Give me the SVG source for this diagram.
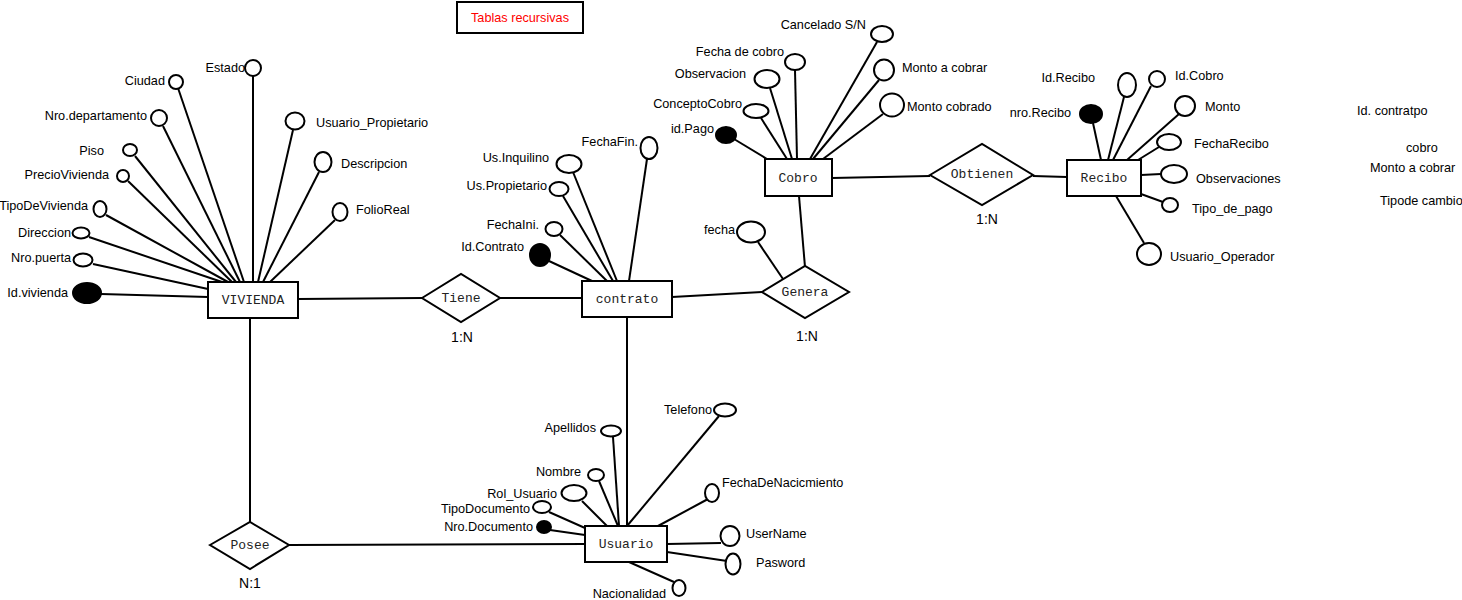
<svg xmlns="http://www.w3.org/2000/svg" width="1462" height="600" viewBox="0 0 1462 600">
<style>
.bg{fill:#fff}
.ent rect{fill:#fff;stroke:#000;stroke-width:2}
.rel polygon{fill:#fff;stroke:#000;stroke-width:2}
.etxt{font-family:"Liberation Mono","Courier New",monospace;font-size:13px;fill:#222;text-anchor:middle}
.attr ellipse{fill:#fff;stroke:#000;stroke-width:2}
.attr ellipse.key{fill:#000}
.lbl{font-family:"Liberation Sans",Arial,sans-serif;font-size:12.7px;fill:#000}
.end{text-anchor:end}
.card{font-family:"Liberation Sans",Arial,sans-serif;font-size:14px;fill:#000;text-anchor:middle}
#connectors line{stroke:#000;stroke-width:2}
.title rect{fill:#fff;stroke:#000;stroke-width:2}
.title text{font-family:"Liberation Sans",Arial,sans-serif;font-size:12.7px;fill:#ff0000;text-anchor:middle}
</style>
<rect class="bg" x="0" y="0" width="1462" height="600"/>

<g id="connectors">
<!-- relationships -->
<line x1="298" y1="299" x2="422" y2="298"/>
<line x1="500" y1="298" x2="582" y2="298"/>
<line x1="672" y1="297" x2="762" y2="292"/>
<line x1="805" y1="267" x2="799" y2="196"/>
<line x1="832" y1="178" x2="930" y2="176"/>
<line x1="1033" y1="176" x2="1067" y2="177"/>
<line x1="627" y1="317" x2="627" y2="526"/>
<line x1="250" y1="318" x2="250" y2="522"/>
<line x1="289" y1="545" x2="585" y2="544"/>
<!-- VIVIENDA attributes -->
<line x1="253" y1="76" x2="253" y2="282"/>
<line x1="178" y1="88" x2="244" y2="282"/>
<line x1="163" y1="126" x2="240" y2="282"/>
<line x1="135" y1="156" x2="236" y2="282"/>
<line x1="128" y1="181" x2="232" y2="282"/>
<line x1="106" y1="215" x2="228" y2="282"/>
<line x1="89" y1="237" x2="222" y2="282"/>
<line x1="93" y1="264" x2="208" y2="289"/>
<line x1="101" y1="294" x2="208" y2="297"/>
<line x1="293" y1="130" x2="258" y2="282"/>
<line x1="319" y1="172" x2="263" y2="282"/>
<line x1="335" y1="220" x2="270" y2="282"/>
<!-- contrato attributes -->
<line x1="647" y1="159" x2="629" y2="281"/>
<line x1="573" y1="172" x2="617" y2="281"/>
<line x1="563" y1="196" x2="613" y2="281"/>
<line x1="560" y1="235" x2="607" y2="281"/>
<line x1="549" y1="261" x2="592" y2="281"/>
<!-- Genera attribute -->
<line x1="758" y1="242" x2="783" y2="279"/>
<!-- Cobro attributes -->
<line x1="877" y1="42" x2="810" y2="159"/>
<line x1="795" y1="70" x2="797" y2="159"/>
<line x1="770" y1="88" x2="792" y2="159"/>
<line x1="761" y1="118" x2="787" y2="159"/>
<line x1="734" y1="139" x2="767" y2="159"/>
<line x1="879" y1="80" x2="813" y2="159"/>
<line x1="883" y1="114" x2="823" y2="159"/>
<!-- Recibo attributes -->
<line x1="1124" y1="97" x2="1108" y2="160"/>
<line x1="1093" y1="123" x2="1101" y2="160"/>
<line x1="1151" y1="86" x2="1113" y2="160"/>
<line x1="1179" y1="114" x2="1127" y2="160"/>
<line x1="1159" y1="147" x2="1138" y2="160"/>
<line x1="1141" y1="175" x2="1161" y2="174"/>
<line x1="1141" y1="194" x2="1163" y2="202"/>
<line x1="1116" y1="196" x2="1144" y2="243"/>
<!-- Usuario attributes -->
<line x1="719" y1="416" x2="627" y2="526"/>
<line x1="613" y1="437" x2="619" y2="526"/>
<line x1="599" y1="481" x2="618" y2="526"/>
<line x1="582" y1="501" x2="607" y2="526"/>
<line x1="549" y1="512" x2="585" y2="528"/>
<line x1="550" y1="530" x2="585" y2="535"/>
<line x1="708" y1="499" x2="658" y2="526"/>
<line x1="667" y1="544" x2="721" y2="543"/>
<line x1="667" y1="552" x2="727" y2="561"/>
<line x1="629" y1="562" x2="674" y2="582"/>
</g>

<g id="title" class="title">
<rect x="457" y="2" width="126" height="31"/>
<text x="520" y="22">Tablas recursivas</text>
</g>

<g id="vivienda" class="ent"><rect x="208" y="282" width="90" height="36"/><text class="etxt" x="253" y="304">VIVIENDA</text></g>
<g id="contrato" class="ent"><rect x="582" y="281" width="90" height="36"/><text class="etxt" x="627" y="303">contrato</text></g>
<g id="cobro" class="ent"><rect x="765" y="159" width="67" height="37"/><text class="etxt" x="798" y="182">Cobro</text></g>
<g id="recibo" class="ent"><rect x="1067" y="160" width="74" height="36"/><text class="etxt" x="1104" y="182">Recibo</text></g>
<g id="usuario" class="ent"><rect x="585" y="526" width="82" height="36"/><text class="etxt" x="626" y="548">Usuario</text></g>

<g id="tiene" class="rel"><polygon points="422,298 461,274 500,298 461,322"/><text class="etxt" x="461" y="302">Tiene</text><text class="card" x="462" y="342">1:N</text></g>
<g id="genera" class="rel"><polygon points="762,292 805,266 849,292 805,318"/><text class="etxt" x="805" y="296">Genera</text><text class="card" x="807" y="341">1:N</text></g>
<g id="obtienen" class="rel"><polygon points="930,175 982,144 1033,175 982,205"/><text class="etxt" x="982" y="178">Obtienen</text><text class="card" x="987" y="224">1:N</text></g>
<g id="posee" class="rel"><polygon points="210,545 250,522 289,545 250,569"/><text class="etxt" x="250" y="549">Posee</text><text class="card" x="250" y="588">N:1</text></g>

<!-- VIVIENDA attributes -->
<g id="a-estado" class="attr"><ellipse cx="253" cy="68" rx="8" ry="8"/><text class="lbl end" x="245" y="72">Estado</text></g>
<g id="a-ciudad" class="attr"><ellipse cx="176" cy="82" rx="7" ry="7"/><text class="lbl end" x="165" y="85">Ciudad</text></g>
<g id="a-nrodep" class="attr"><ellipse cx="159" cy="118" rx="8" ry="8"/><text class="lbl end" x="147" y="120">Nro.departamento</text></g>
<g id="a-piso" class="attr"><ellipse cx="130" cy="150" rx="7" ry="6"/><text class="lbl end" x="104" y="155">Piso</text></g>
<g id="a-precio" class="attr"><ellipse cx="123" cy="176" rx="6" ry="6"/><text class="lbl end" x="109" y="179">PrecioVivienda</text></g>
<g id="a-tipoviv" class="attr"><ellipse cx="100" cy="209" rx="6.5" ry="8"/><text class="lbl end" x="88" y="210">TipoDeVivienda</text></g>
<g id="a-direccion" class="attr"><ellipse cx="81" cy="233" rx="8.5" ry="5.5"/><text class="lbl end" x="71" y="237">Direccion</text></g>
<g id="a-nropuerta" class="attr"><ellipse cx="83" cy="260" rx="9.5" ry="6.5"/><text class="lbl end" x="71" y="262">Nro.puerta</text></g>
<g id="a-idviv" class="attr"><ellipse class="key" cx="87" cy="293" rx="14" ry="10"/><text class="lbl end" x="68" y="297">Id.vivienda</text></g>
<g id="a-usprop" class="attr"><ellipse cx="295" cy="121" rx="9.5" ry="8.5"/><text class="lbl" x="316" y="127">Usuario_Propietario</text></g>
<g id="a-descripcion" class="attr"><ellipse cx="323" cy="162" rx="8.5" ry="10"/><text class="lbl" x="341" y="168">Descripcion</text></g>
<g id="a-folio" class="attr"><ellipse cx="340" cy="212" rx="7.5" ry="9"/><text class="lbl" x="356" y="214">FolioReal</text></g>

<!-- contrato attributes -->
<g id="a-fechafin" class="attr"><ellipse cx="649" cy="148" rx="8.5" ry="11"/><text class="lbl end" x="638" y="146">FechaFin.</text></g>
<g id="a-usinq" class="attr"><ellipse cx="569" cy="164" rx="12.5" ry="9"/><text class="lbl end" x="549" y="162">Us.Inquilino</text></g>
<g id="a-usprop2" class="attr"><ellipse cx="559" cy="189" rx="9.5" ry="7"/><text class="lbl end" x="547" y="190">Us.Propietario</text></g>
<g id="a-fechaini" class="attr"><ellipse cx="554" cy="229" rx="8.5" ry="7"/><text class="lbl end" x="539" y="229">FechaIni.</text></g>
<g id="a-idcontrato" class="attr"><ellipse class="key" cx="540" cy="255" rx="10" ry="11"/><text class="lbl end" x="524" y="251">Id.Contrato</text></g>

<!-- Genera attribute -->
<g id="a-fecha" class="attr"><ellipse cx="751" cy="232" rx="14" ry="10.5"/><text class="lbl end" x="735" y="234">fecha</text></g>

<!-- Cobro attributes -->
<g id="a-cancelado" class="attr"><ellipse cx="882" cy="34" rx="11" ry="8"/><text class="lbl end" x="866" y="29">Cancelado S/N</text></g>
<g id="a-fechacobro" class="attr"><ellipse cx="795" cy="62" rx="10" ry="8"/><text class="lbl end" x="784" y="56">Fecha de cobro</text></g>
<g id="a-observacion" class="attr"><ellipse cx="767" cy="79" rx="12.5" ry="9"/><text class="lbl end" x="746" y="78">Observacion</text></g>
<g id="a-concepto" class="attr"><ellipse cx="756" cy="111" rx="12.5" ry="7"/><text class="lbl end" x="742" y="108">ConceptoCobro</text></g>
<g id="a-idpago" class="attr"><ellipse class="key" cx="726" cy="135" rx="10" ry="8"/><text class="lbl end" x="714" y="133">id.Pago</text></g>
<g id="a-montoacobrar" class="attr"><ellipse cx="884" cy="70" rx="10" ry="10.5"/><text class="lbl" x="902" y="72">Monto a cobrar</text></g>
<g id="a-montocobrado" class="attr"><ellipse cx="892" cy="105" rx="12" ry="11.5"/><text class="lbl" x="907" y="111">Monto cobrado</text></g>

<!-- Recibo attributes -->
<g id="a-idrecibo" class="attr"><ellipse cx="1127" cy="85" rx="9" ry="12"/><text class="lbl end" x="1095" y="82">Id.Recibo</text></g>
<g id="a-nrorecibo" class="attr"><ellipse class="key" cx="1091" cy="114" rx="11" ry="9"/><text class="lbl end" x="1071" y="117">nro.Recibo</text></g>
<g id="a-idcobro" class="attr"><ellipse cx="1157" cy="79" rx="8" ry="8"/><text class="lbl" x="1175" y="80">Id.Cobro</text></g>
<g id="a-monto" class="attr"><ellipse cx="1185" cy="106" rx="10" ry="10"/><text class="lbl" x="1205" y="111">Monto</text></g>
<g id="a-fecharecibo" class="attr"><ellipse cx="1169" cy="142" rx="12" ry="8"/><text class="lbl" x="1194" y="148">FechaRecibo</text></g>
<g id="a-observaciones" class="attr"><ellipse cx="1174" cy="174" rx="13" ry="9"/><text class="lbl" x="1196" y="183">Observaciones</text></g>
<g id="a-tipopago" class="attr"><ellipse cx="1170" cy="205" rx="8" ry="7"/><text class="lbl" x="1192" y="213">Tipo_de_pago</text></g>
<g id="a-usoper" class="attr"><ellipse cx="1149" cy="254" rx="12" ry="11"/><text class="lbl" x="1170" y="261">Usuario_Operador</text></g>

<!-- Usuario attributes -->
<g id="a-telefono" class="attr"><ellipse cx="725" cy="410" rx="11" ry="6.5"/><text class="lbl end" x="712" y="414">Telefono</text></g>
<g id="a-apellidos" class="attr"><ellipse cx="611" cy="431" rx="10" ry="5.5"/><text class="lbl end" x="596" y="432">Apellidos</text></g>
<g id="a-nombre" class="attr"><ellipse cx="596" cy="475" rx="8" ry="6"/><text class="lbl end" x="581" y="476">Nombre</text></g>
<g id="a-rol" class="attr"><ellipse cx="574" cy="493" rx="12.5" ry="8"/><text class="lbl end" x="557" y="498">Rol_Usuario</text></g>
<g id="a-tipodoc" class="attr"><ellipse cx="542" cy="507" rx="9" ry="6"/><text class="lbl end" x="530" y="513">TipoDocumento</text></g>
<g id="a-nrodoc" class="attr"><ellipse class="key" cx="544" cy="527" rx="7" ry="6"/><text class="lbl end" x="533" y="531">Nro.Documento</text></g>
<g id="a-fechanac" class="attr"><ellipse cx="712" cy="493" rx="7" ry="9"/><text class="lbl" x="722" y="487">FechaDeNacicmiento</text></g>
<g id="a-username" class="attr"><ellipse cx="730" cy="536" rx="9.5" ry="10"/><text class="lbl" x="746" y="538">UserName</text></g>
<g id="a-pasword" class="attr"><ellipse cx="733" cy="564" rx="7.5" ry="10.5"/><text class="lbl" x="756" y="567">Pasword</text></g>
<g id="a-nacionalidad" class="attr"><ellipse cx="679" cy="588" rx="6.5" ry="8"/><text class="lbl end" x="666" y="598">Nacionalidad</text></g>

<!-- loose texts -->
<g id="notes">
<text class="lbl" x="1357" y="115">Id. contratpo</text>
<text class="lbl" x="1406" y="152">cobro</text>
<text class="lbl" x="1370" y="172">Monto a cobrar</text>
<text class="lbl" x="1380" y="205">Tipode cambio</text>
</g>
</svg>
